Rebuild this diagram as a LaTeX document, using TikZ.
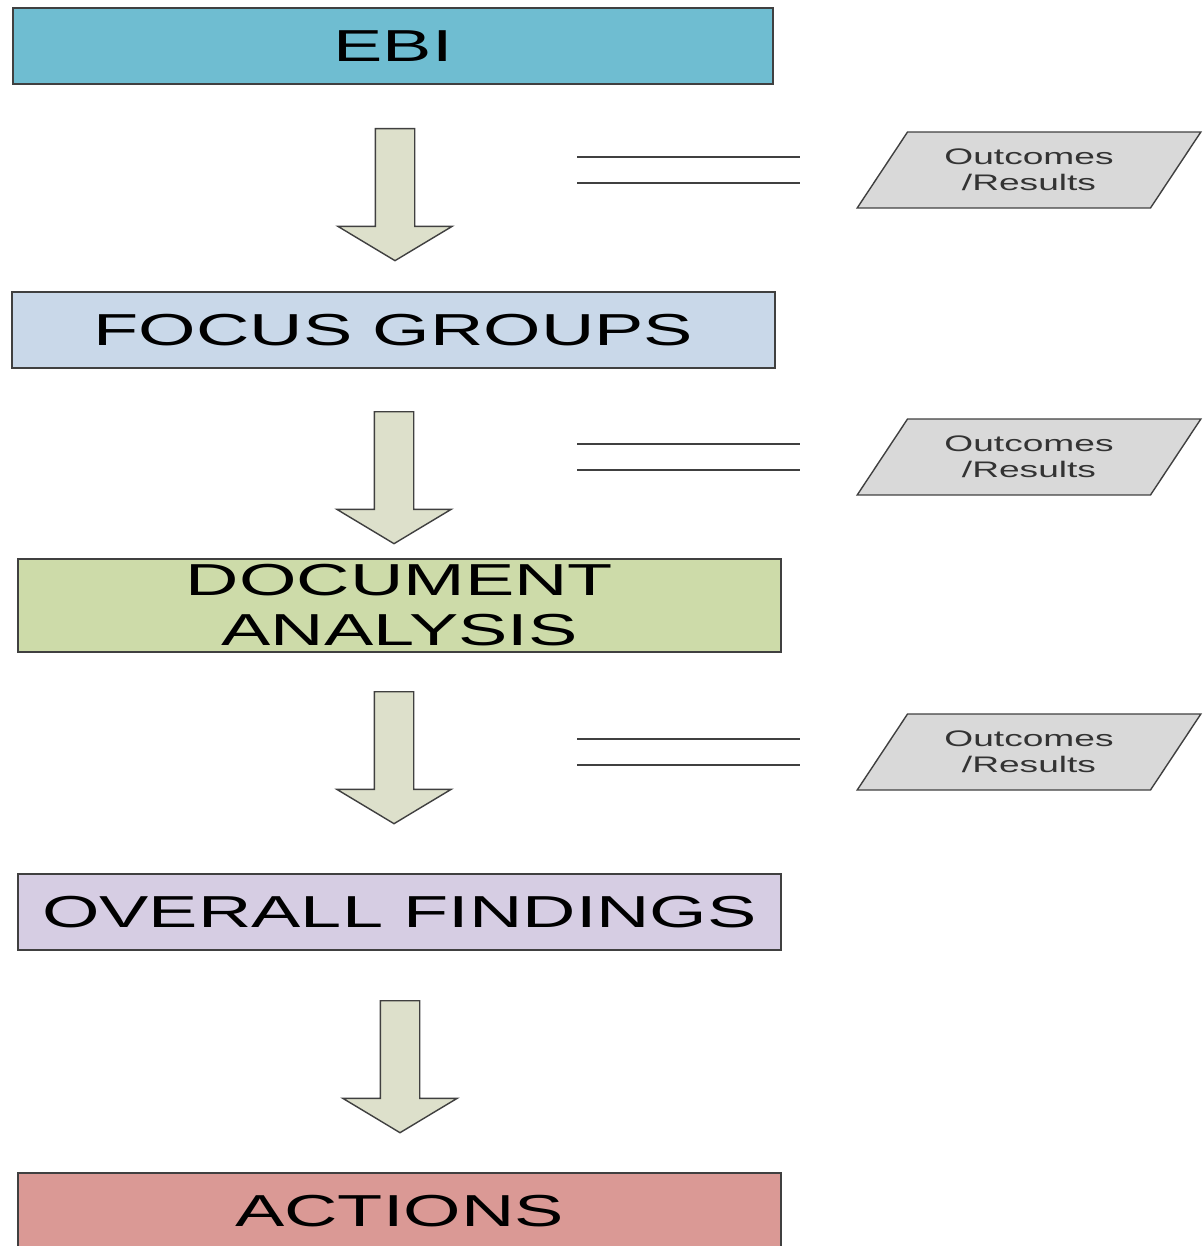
\documentclass[tikz,border=0pt]{standalone}
\usepackage{fontspec}
\setmainfont{Liberation Sans}
\newfontfamily\widefont[FakeStretch=1.65]{Liberation Sans}
\usepackage{xcolor}
\usetikzlibrary{shapes.geometric,shapes.arrows}
\definecolor{ebiblue}{HTML}{6FBDD1}
\definecolor{focusblue}{HTML}{C9D8E9}
\definecolor{docgreen}{HTML}{CDDBA9}
\definecolor{findlilac}{HTML}{D6CDE3}
\definecolor{actred}{HTML}{DA9995}
\definecolor{arrowfill}{HTML}{DDE0CB}
\definecolor{resultgray}{HTML}{D9D9D9}
\definecolor{edgegray}{HTML}{404040}
\tikzset{
    flowbox/.style={draw=edgegray, line width=0.8pt, rectangle, align=center, inner sep=0pt, minimum width=15.2cm, minimum height=1.52cm, font=\widefont\fontsize{25.5}{28.4}\selectfont},
    flowarrow/.style={draw=edgegray, line width=0.8pt, fill=arrowfill, single arrow, rotate=-90, anchor=tail, inner xsep=0pt, inner ysep=0.38cm, minimum height=2.64cm, minimum width=2.26cm, single arrow head extend=0.75cm, single arrow tip angle=118},
    flowresult/.style={draw=edgegray, line width=0.8pt, fill=resultgray, trapezium, trapezium left angle=50, trapezium right angle=130, trapezium stretches=true, minimum width=6.88cm, minimum height=1.52cm, align=center, inner sep=0pt, text=black!80, font=\widefont\fontsize{12.8}{14.7}\selectfont},
    flowline/.style={draw=edgegray, line width=0.8pt}
}
\begin{document}
\begin{tikzpicture}[x=0.02cm, y=-0.02cm]
    \useasboundingbox (0,0) rectangle (1203,1246);
    % main steps
    \node[flowbox, fill=ebiblue, minimum width=15.2cm] (ebi) at (393,46) {EBI};
    \node[flowbox, fill=focusblue, minimum width=15.26cm] (focus) at (393.5,330) {FOCUS GROUPS};
    \node[flowbox, fill=docgreen, minimum width=15.26cm, minimum height=1.86cm] (docan) at (399.5,605.5) {DOCUMENT\\ANALYSIS};
    \node[flowbox, fill=findlilac, minimum width=15.26cm] (findings) at (399.5,912) {OVERALL FINDINGS};
    \node[flowbox, fill=actred, minimum width=15.26cm] (actions) at (399.5,1211) {ACTIONS};
    % block arrows between steps
    \node[flowarrow] (a1) at (395,128) {};
    \node[flowarrow] (a2) at (394,411) {};
    \node[flowarrow] (a3) at (394,691) {};
    \node[flowarrow] (a4) at (400,1000) {};
    % outcomes
    \node[flowresult] (r1) at (1029,170) {Outcomes\\/Results};
    \node[flowresult] (r2) at (1029,457) {Outcomes\\/Results};
    \node[flowresult] (r3) at (1029,752) {Outcomes\\/Results};
    \foreach \i in {1,2,3} {
        \draw[flowline] ([shift={(-452,-13)}]r\i.center) -- ++(223,0);
        \draw[flowline] ([shift={(-452,13)}]r\i.center) -- ++(223,0);
    }
\end{tikzpicture}
\end{document}
